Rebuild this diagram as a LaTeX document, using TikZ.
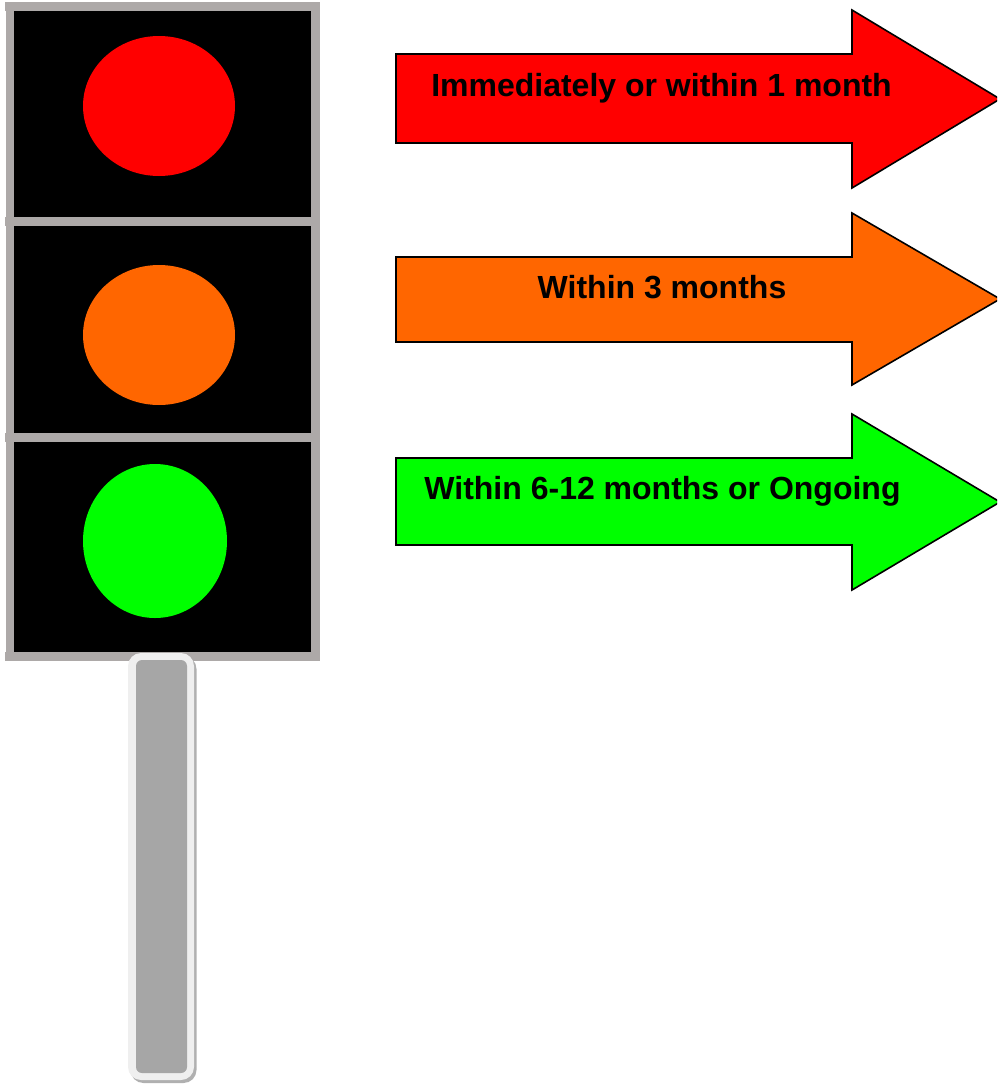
\documentclass[tikz,border=0pt]{standalone}
\usepackage{fontspec}
\setmainfont{Liberation Sans}
\definecolor{frame}{HTML}{ADA9A8}
\definecolor{polefill}{HTML}{A6A6A6}
\definecolor{poleedge}{HTML}{EFEFEF}
\definecolor{poleshadow}{HTML}{B0B0B0}
\definecolor{amber}{HTML}{FF6600}
\tikzset{
  arrowshape/.style={draw=black,line width=1.6pt,line join=miter},
  label/.style={font=\fontsize{32}{36}\selectfont\bfseries,text=black,inner sep=0pt,anchor=base}
}
\newcommand{\signarrow}[5]{% top head, shaft top, shaft bottom, bottom head, fill
  \fill[#5] (396,#2) -- (852,#2) -- (852,#1) -- (1000,{(#1+#4)/2}) -- (852,#4) -- (852,#3) -- (396,#3) -- cycle;
  \draw[arrowshape] (396,#2) -- (852,#2) -- (852,#1) -- (1000,{(#1+#4)/2}) -- (852,#4) -- (852,#3) -- (396,#3) -- cycle;
}
\begin{document}
\begin{tikzpicture}[x=1pt,y=-1pt]
\path[use as bounding box] (0,0) rectangle (997,1084);
\begin{scope}
\clip (0,0) rectangle (997,1084);
% housing
\fill[black] (14,11) rectangle (311,652);
\fill[frame] (5,2) rectangle (320,11);
\fill[frame] (6,2) rectangle (14,661);
\fill[frame] (311,2) rectangle (320,661);
\fill[frame] (5,217) rectangle (320,226);
\fill[frame] (5,433) rectangle (320,442);
\fill[frame] (5,652) rectangle (320,661);
% lamps
\fill[red] (159,106) ellipse [x radius=76,y radius=70];
\fill[amber] (159,335) ellipse [x radius=76,y radius=70];
\fill[green] (155,541) ellipse [x radius=72,y radius=77];
% pole
\fill[poleshadow,rounded corners=13pt] (130.5,656) rectangle (196.5,1083);
\fill[poleedge,rounded corners=13pt] (128,653) rectangle (194,1080);
\fill[polefill,rounded corners=6pt] (136,660) rectangle (187,1073);
% arrows
\signarrow{10}{54}{143}{188}{red}
\signarrow{213}{257}{342}{385}{amber}
\signarrow{414}{458}{545}{590}{green}
\end{scope}
% labels
\node[label] (a) at (661.5,96) {Immediately or within 1 month};
\node[label] (b) at (662,298) {Within 3 months};
\node[label] (c) at (662.5,499) {Within 6-12 months or Ongoing};
\end{tikzpicture}
\end{document}
